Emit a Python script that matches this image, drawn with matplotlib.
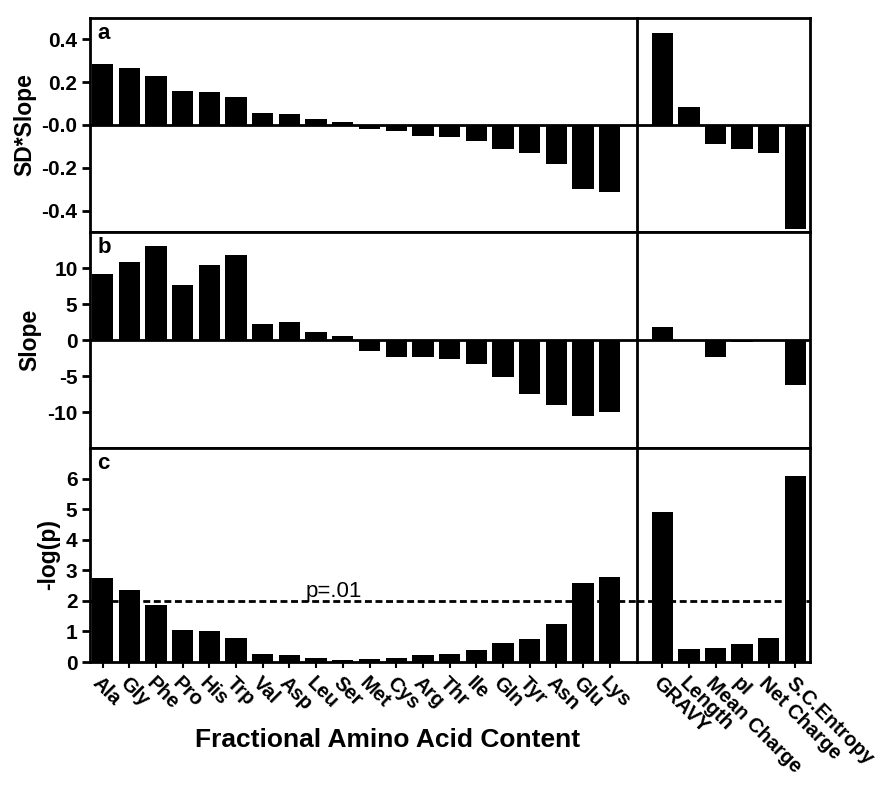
import numpy as np
import matplotlib
matplotlib.use("Agg")
import matplotlib.pyplot as plt

plt.rcParams['font.family'] = ['Liberation Sans', 'DejaVu Sans']
plt.rcParams['font.weight'] = 'bold'
plt.rcParams['axes.unicode_minus'] = False

amino_acids = ['Ala', 'Gly', 'Phe', 'Pro', 'His', 'Trp', 'Val', 'Asp', 'Leu', 'Ser',
               'Met', 'Cys', 'Arg', 'Thr', 'Ile', 'Gln', 'Tyr', 'Asn', 'Glu', 'Lys']
properties = ['GRAVY', 'Length', 'Mean Charge', 'pI', 'Net Charge', 'S.C.Entropy']

sd_slope_aa = [0.285, 0.265, 0.228, 0.158, 0.155, 0.130, 0.055, 0.050, 0.030, 0.015,
               -0.020, -0.030, -0.052, -0.055, -0.075, -0.110, -0.133, -0.183, -0.300, -0.312]
sd_slope_props = [0.43, 0.082, -0.09, -0.11, -0.13, -0.484]

slope_aa = [9.1, 10.9, 13.1, 7.6, 10.4, 11.8, 2.2, 2.5, 1.05, 0.6,
            -1.5, -2.3, -2.3, -2.7, -3.3, -5.1, -7.5, -9.0, -10.5, -10.0]
slope_props = [1.85, 0.05, -2.3, -0.25, -0.12, -6.3]

neglogp_aa = [2.75, 2.37, 1.86, 1.04, 1.03, 0.79, 0.25, 0.22, 0.13, 0.08,
              0.09, 0.13, 0.24, 0.25, 0.38, 0.63, 0.76, 1.23, 2.57, 2.78]
neglogp_props = [4.9, 0.43, 0.46, 0.59, 0.78, 6.07]

rows = [
    ('a', 'SD*Slope', sd_slope_aa, sd_slope_props, (-0.5, 0.5),
     [-0.4, -0.2, 0.0, 0.2, 0.4], ['-0.4', '-0.2', '-0.0', '0.2', '0.4']),
    ('b', 'Slope', slope_aa, slope_props, (-15, 15),
     [-10, -5, 0, 5, 10], ['-10', '-5', '0', '5', '10']),
    ('c', '-log(p)', neglogp_aa, neglogp_props, (0, 7),
     [0, 1, 2, 3, 4, 5, 6], ['0', '1', '2', '3', '4', '5', '6']),
]

W, H = 890, 788
fig = plt.figure(figsize=(W / 100, H / 100), dpi=100)

x_left, x_div, x_right = 90, 637, 810
row_edges = [(18, 232), (232, 448), (448, 662)]
lw = 2.0

for (letter, ylabel, aa_vals, prop_vals, ylim, yt, ytl), (top, bot) in zip(rows, row_edges):
    axl = fig.add_axes([x_left / W, 1 - bot / H, (x_div - x_left) / W, (bot - top) / H])
    axr = fig.add_axes([x_div / W, 1 - bot / H, (x_right - x_div) / W, (bot - top) / H])

    axl.bar(np.arange(len(amino_acids)), aa_vals, width=0.8, color='black', zorder=3)
    axr.bar(np.arange(len(properties)), prop_vals, width=0.8, color='black', zorder=3)
    axl.set_xlim(-0.47, 20.02)
    axr.set_xlim(-0.95, 5.55)

    for ax in (axl, axr):
        ax.set_ylim(*ylim)
        for s in ax.spines.values():
            s.set_linewidth(lw)
        if letter != 'c':
            ax.axhline(0, color='black', lw=lw, zorder=4)
        else:
            ax.axhline(2, color='black', lw=2, linestyle=(0, (2.5, 1.3)), zorder=2)

    axl.spines['right'].set_visible(False)
    axl.set_yticks(yt)
    axl.set_yticklabels(ytl, fontsize=15, fontweight='bold')
    axl.tick_params(axis='y', length=6, width=lw, pad=3)
    axl.set_ylabel(ylabel, fontsize=16.5, fontweight='bold')
    axr.set_yticks([])

    axl.text(0.013, 0.975, letter, transform=axl.transAxes, fontsize=16,
             fontweight='bold', ha='left', va='top')

    if letter == 'c':
        axl.set_xticks(np.arange(len(amino_acids)))
        axl.set_xticklabels(amino_acids, rotation=-45, ha='left', va='top',
                            rotation_mode='anchor', fontsize=14.5, fontweight='bold')
        axr.set_xticks(np.arange(len(properties)))
        axr.set_xticklabels(properties, rotation=-45, ha='left', va='top',
                            rotation_mode='anchor', fontsize=14.5, fontweight='bold')
        for ax in (axl, axr):
            ax.tick_params(axis='x', length=4, width=1.5, pad=4)
        axl.text(7.6, 2.12, 'p=.01', fontsize=16, fontweight='normal',
                 ha='left', va='baseline')
    else:
        axl.set_xticks([])
        axr.set_xticks([])

fig.text(388 / W, 1 - 740 / H, 'Fractional Amino Acid Content', fontsize=19,
         fontweight='bold', ha='center', va='center')

fig.savefig('out.png', dpi=100)
